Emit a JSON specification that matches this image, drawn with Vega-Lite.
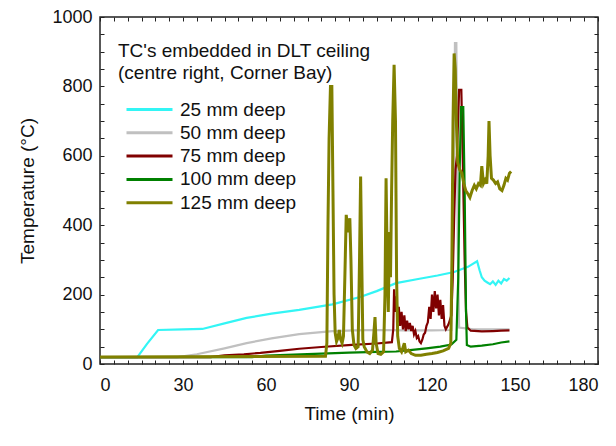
{
  "$schema": "https://vega.github.io/schema/vega-lite/v6.json",
  "width": 498,
  "height": 347,
  "autosize": "none",
  "padding": {"left": 100, "top": 17, "right": 18, "bottom": 82},
  "background": "white",
  "config": {
    "font": "Liberation Sans",
    "view": {"stroke": "#222222", "strokeWidth": 1.5},
    "axis": {"grid": false, "domain": false, "tickColor": "#222222", "labelColor": "#111111", "titleColor": "#111111", "labelFont": "Liberation Sans", "titleFont": "Liberation Sans", "labelFontSize": 18, "titleFontSize": 19, "titleFontWeight": "normal"}
  },
  "datasets": {
    "tc": [
      {"s":"25 mm deep","t":0,"v":20},{"s":"25 mm deep","t":13.5,"v":20},{"s":"25 mm deep","t":17,"v":58},{"s":"25 mm deep","t":21,"v":98},{"s":"25 mm deep","t":30,"v":100},{"s":"25 mm deep","t":37,"v":101},{"s":"25 mm deep","t":45,"v":117},{"s":"25 mm deep","t":53,"v":133},{"s":"25 mm deep","t":62,"v":145},{"s":"25 mm deep","t":72,"v":156},{"s":"25 mm deep","t":84,"v":172},{"s":"25 mm deep","t":94,"v":193},{"s":"25 mm deep","t":100,"v":210},{"s":"25 mm deep","t":107,"v":233},{"s":"25 mm deep","t":115,"v":245},{"s":"25 mm deep","t":122,"v":255},{"s":"25 mm deep","t":128,"v":265},{"s":"25 mm deep","t":133,"v":280},{"s":"25 mm deep","t":136.3,"v":296},{"s":"25 mm deep","t":137.2,"v":270},{"s":"25 mm deep","t":138,"v":250},{"s":"25 mm deep","t":139,"v":240},{"s":"25 mm deep","t":140,"v":235},{"s":"25 mm deep","t":141,"v":230},{"s":"25 mm deep","t":142,"v":238},{"s":"25 mm deep","t":143,"v":228},{"s":"25 mm deep","t":144,"v":240},{"s":"25 mm deep","t":145,"v":232},{"s":"25 mm deep","t":146,"v":245},{"s":"25 mm deep","t":147,"v":240},{"s":"25 mm deep","t":148,"v":248},
      {"s":"50 mm deep","t":0,"v":20},{"s":"50 mm deep","t":28,"v":20},{"s":"50 mm deep","t":35,"v":28},{"s":"50 mm deep","t":45,"v":45},{"s":"50 mm deep","t":53,"v":60},{"s":"50 mm deep","t":62,"v":74},{"s":"50 mm deep","t":72,"v":86},{"s":"50 mm deep","t":84,"v":95},{"s":"50 mm deep","t":92,"v":97},{"s":"50 mm deep","t":100,"v":98},{"s":"50 mm deep","t":110,"v":97},{"s":"50 mm deep","t":120,"v":97},{"s":"50 mm deep","t":127,"v":98},{"s":"50 mm deep","t":127.8,"v":450},{"s":"50 mm deep","t":128.3,"v":925},{"s":"50 mm deep","t":128.8,"v":925},{"s":"50 mm deep","t":129.3,"v":350},{"s":"50 mm deep","t":129.8,"v":105},{"s":"50 mm deep","t":135,"v":100},{"s":"50 mm deep","t":140,"v":100},{"s":"50 mm deep","t":148,"v":100},
      {"s":"75 mm deep","t":0,"v":20},{"s":"75 mm deep","t":40,"v":20},{"s":"75 mm deep","t":45,"v":25},{"s":"75 mm deep","t":52,"v":28},{"s":"75 mm deep","t":58,"v":32},{"s":"75 mm deep","t":65,"v":38},{"s":"75 mm deep","t":72,"v":44},{"s":"75 mm deep","t":80,"v":49},{"s":"75 mm deep","t":91,"v":55},{"s":"75 mm deep","t":100,"v":59},{"s":"75 mm deep","t":105.5,"v":63},{"s":"75 mm deep","t":106,"v":100},{"s":"75 mm deep","t":106.3,"v":215},{"s":"75 mm deep","t":106.8,"v":150},{"s":"75 mm deep","t":107.2,"v":195},{"s":"75 mm deep","t":107.6,"v":120},{"s":"75 mm deep","t":108,"v":165},{"s":"75 mm deep","t":108.5,"v":110},{"s":"75 mm deep","t":109,"v":150},{"s":"75 mm deep","t":109.5,"v":100},{"s":"75 mm deep","t":110,"v":140},{"s":"75 mm deep","t":110.5,"v":95},{"s":"75 mm deep","t":111,"v":125},{"s":"75 mm deep","t":111.5,"v":100},{"s":"75 mm deep","t":112,"v":118},{"s":"75 mm deep","t":112.5,"v":95},{"s":"75 mm deep","t":113,"v":110},{"s":"75 mm deep","t":113.5,"v":85},{"s":"75 mm deep","t":114,"v":95},{"s":"75 mm deep","t":114.5,"v":75},{"s":"75 mm deep","t":115,"v":80},{"s":"75 mm deep","t":115.5,"v":65},{"s":"75 mm deep","t":116,"v":60},{"s":"75 mm deep","t":116.5,"v":70},{"s":"75 mm deep","t":117,"v":85},{"s":"75 mm deep","t":117.5,"v":90},{"s":"75 mm deep","t":118,"v":110},{"s":"75 mm deep","t":118.5,"v":120},{"s":"75 mm deep","t":119,"v":165},{"s":"75 mm deep","t":119.5,"v":130},{"s":"75 mm deep","t":120,"v":200},{"s":"75 mm deep","t":120.5,"v":150},{"s":"75 mm deep","t":121,"v":210},{"s":"75 mm deep","t":121.5,"v":160},{"s":"75 mm deep","t":122,"v":200},{"s":"75 mm deep","t":122.5,"v":140},{"s":"75 mm deep","t":123,"v":185},{"s":"75 mm deep","t":123.5,"v":130},{"s":"75 mm deep","t":124,"v":170},{"s":"75 mm deep","t":124.5,"v":110},{"s":"75 mm deep","t":125,"v":100},{"s":"75 mm deep","t":126,"v":115},{"s":"75 mm deep","t":127,"v":140},{"s":"75 mm deep","t":127.5,"v":250},{"s":"75 mm deep","t":128,"v":420},{"s":"75 mm deep","t":128.5,"v":560},{"s":"75 mm deep","t":129,"v":600},{"s":"75 mm deep","t":129.8,"v":790},{"s":"75 mm deep","t":130.6,"v":790},{"s":"75 mm deep","t":131.2,"v":560},{"s":"75 mm deep","t":131.8,"v":300},{"s":"75 mm deep","t":132.3,"v":150},{"s":"75 mm deep","t":132.8,"v":105},{"s":"75 mm deep","t":134,"v":96},{"s":"75 mm deep","t":138,"v":94},{"s":"75 mm deep","t":142,"v":95},{"s":"75 mm deep","t":145,"v":96},{"s":"75 mm deep","t":148,"v":97},
      {"s":"100 mm deep","t":0,"v":20},{"s":"100 mm deep","t":55,"v":20},{"s":"100 mm deep","t":60,"v":24},{"s":"100 mm deep","t":70,"v":27},{"s":"100 mm deep","t":80,"v":30},{"s":"100 mm deep","t":90,"v":33},{"s":"100 mm deep","t":100,"v":35},{"s":"100 mm deep","t":107,"v":36},{"s":"100 mm deep","t":112,"v":40},{"s":"100 mm deep","t":118,"v":45},{"s":"100 mm deep","t":123,"v":50},{"s":"100 mm deep","t":127,"v":56},{"s":"100 mm deep","t":128.8,"v":70},{"s":"100 mm deep","t":129.5,"v":250},{"s":"100 mm deep","t":130,"v":560},{"s":"100 mm deep","t":130.5,"v":740},{"s":"100 mm deep","t":131.3,"v":740},{"s":"100 mm deep","t":131.8,"v":500},{"s":"100 mm deep","t":132.3,"v":150},{"s":"100 mm deep","t":132.6,"v":55},{"s":"100 mm deep","t":134,"v":50},{"s":"100 mm deep","t":138,"v":53},{"s":"100 mm deep","t":142,"v":57},{"s":"100 mm deep","t":145,"v":62},{"s":"100 mm deep","t":148,"v":65},
      {"s":"125 mm deep","t":0,"v":20},{"s":"125 mm deep","t":81.5,"v":22},{"s":"125 mm deep","t":82,"v":60},{"s":"125 mm deep","t":82.4,"v":400},{"s":"125 mm deep","t":82.8,"v":650},{"s":"125 mm deep","t":83.3,"v":800},{"s":"125 mm deep","t":83.8,"v":800},{"s":"125 mm deep","t":84.2,"v":500},{"s":"125 mm deep","t":84.6,"v":200},{"s":"125 mm deep","t":85,"v":90},{"s":"125 mm deep","t":85.5,"v":65},{"s":"125 mm deep","t":86,"v":75},{"s":"125 mm deep","t":86.5,"v":98},{"s":"125 mm deep","t":87,"v":70},{"s":"125 mm deep","t":87.5,"v":60},{"s":"125 mm deep","t":88,"v":80},{"s":"125 mm deep","t":88.5,"v":250},{"s":"125 mm deep","t":89,"v":430},{"s":"125 mm deep","t":89.4,"v":400},{"s":"125 mm deep","t":89.8,"v":380},{"s":"125 mm deep","t":90.3,"v":420},{"s":"125 mm deep","t":90.7,"v":300},{"s":"125 mm deep","t":91.2,"v":100},{"s":"125 mm deep","t":91.8,"v":55},{"s":"125 mm deep","t":92.5,"v":45},{"s":"125 mm deep","t":93.3,"v":50},{"s":"125 mm deep","t":93.8,"v":300},{"s":"125 mm deep","t":94.2,"v":540},{"s":"125 mm deep","t":94.6,"v":300},{"s":"125 mm deep","t":95,"v":70},{"s":"125 mm deep","t":95.5,"v":50},{"s":"125 mm deep","t":96.5,"v":35},{"s":"125 mm deep","t":97.5,"v":30},{"s":"125 mm deep","t":98.5,"v":40},{"s":"125 mm deep","t":99,"v":90},{"s":"125 mm deep","t":99.4,"v":135},{"s":"125 mm deep","t":99.8,"v":60},{"s":"125 mm deep","t":100.5,"v":30},{"s":"125 mm deep","t":101.5,"v":28},{"s":"125 mm deep","t":102.5,"v":35},{"s":"125 mm deep","t":103,"v":200},{"s":"125 mm deep","t":103.4,"v":535},{"s":"125 mm deep","t":103.8,"v":300},{"s":"125 mm deep","t":104.2,"v":150},{"s":"125 mm deep","t":104.6,"v":380},{"s":"125 mm deep","t":105,"v":250},{"s":"125 mm deep","t":105.4,"v":500},{"s":"125 mm deep","t":105.8,"v":700},{"s":"125 mm deep","t":106.3,"v":862},{"s":"125 mm deep","t":106.8,"v":700},{"s":"125 mm deep","t":107.2,"v":250},{"s":"125 mm deep","t":107.6,"v":80},{"s":"125 mm deep","t":108.2,"v":45},{"s":"125 mm deep","t":109,"v":35},{"s":"125 mm deep","t":110,"v":60},{"s":"125 mm deep","t":110.5,"v":35},{"s":"125 mm deep","t":111.5,"v":40},{"s":"125 mm deep","t":112.5,"v":30},{"s":"125 mm deep","t":114,"v":25},{"s":"125 mm deep","t":116,"v":25},{"s":"125 mm deep","t":118,"v":28},{"s":"125 mm deep","t":120,"v":30},{"s":"125 mm deep","t":122,"v":33},{"s":"125 mm deep","t":124,"v":38},{"s":"125 mm deep","t":126,"v":45},{"s":"125 mm deep","t":126.8,"v":60},{"s":"125 mm deep","t":127.2,"v":300},{"s":"125 mm deep","t":127.6,"v":700},{"s":"125 mm deep","t":128,"v":895},{"s":"125 mm deep","t":128.4,"v":850},{"s":"125 mm deep","t":128.8,"v":700},{"s":"125 mm deep","t":129.3,"v":580},{"s":"125 mm deep","t":130,"v":560},{"s":"125 mm deep","t":130.8,"v":550},{"s":"125 mm deep","t":131.5,"v":520},{"s":"125 mm deep","t":132.2,"v":500},{"s":"125 mm deep","t":133,"v":490},{"s":"125 mm deep","t":133.7,"v":480},{"s":"125 mm deep","t":134.5,"v":500},{"s":"125 mm deep","t":135.3,"v":515},{"s":"125 mm deep","t":136,"v":505},{"s":"125 mm deep","t":136.8,"v":520},{"s":"125 mm deep","t":137.5,"v":515},{"s":"125 mm deep","t":138,"v":570},{"s":"125 mm deep","t":138.6,"v":520},{"s":"125 mm deep","t":139.2,"v":530},{"s":"125 mm deep","t":139.8,"v":520},{"s":"125 mm deep","t":140.3,"v":600},{"s":"125 mm deep","t":140.6,"v":700},{"s":"125 mm deep","t":141,"v":600},{"s":"125 mm deep","t":141.5,"v":535},{"s":"125 mm deep","t":142.2,"v":530},{"s":"125 mm deep","t":143,"v":520},{"s":"125 mm deep","t":143.7,"v":525},{"s":"125 mm deep","t":144.5,"v":505},{"s":"125 mm deep","t":145.3,"v":500},{"s":"125 mm deep","t":146,"v":515},{"s":"125 mm deep","t":146.7,"v":535},{"s":"125 mm deep","t":147.3,"v":530},{"s":"125 mm deep","t":148,"v":550},{"s":"125 mm deep","t":148.6,"v":555}
    ]
  },
  "data": {"name": "tc"},
  "resolve": {"axis": {"x": "independent", "y": "independent"}},
  "layer": [
    {
      "transform": [{"filter": "datum.s !== '125 mm deep'"}],
      "mark": {"type": "line", "strokeWidth": 2.2, "interpolate": "linear"},
      "encoding": {
        "x": {"field": "t", "type": "quantitative", "scale": {"domain": [0, 180], "nice": false, "zero": false},
          "axis": {"orient": "bottom", "values": [0,5,10,15,20,25,30,35,40,45,50,55,60,65,70,75,80,85,90,95,100,105,110,115,120,125,130,135,140,145,150,155,160,165,170,175,180], "labelExpr": "datum.value % 30 === 0 ? datum.label : ''", "tickSize": -4, "labelPadding": 16, "title": "Time (min)", "titlePadding": 10}},
        "y": {"field": "v", "type": "quantitative", "scale": {"domain": [0, 1000], "nice": false},
          "axis": {"orient": "left", "values": [0,50,100,150,200,250,300,350,400,450,500,550,600,650,700,750,800,850,900,950,1000], "labelExpr": "datum.value % 200 === 0 ? datum.label : ''", "tickSize": -4, "labelPadding": 12, "format": "d", "title": "Temperature (°C)", "titlePadding": 14}},
        "color": {"field": "s", "type": "nominal",
          "scale": {"domain": ["25 mm deep", "50 mm deep", "75 mm deep", "100 mm deep", "125 mm deep"], "range": ["#33f5f5", "#c0c0c0", "#800000", "#008000", "#808000"]},
          "legend": {"orient": "none", "legendX": 18, "legendY": 25, "title": ["TC's embedded in DLT ceiling", "(centre right, Corner Bay)"], "titleLimit": 500, "titleFontSize": 19, "titleFontWeight": "normal", "titleFont": "Liberation Sans", "titleColor": "#111111", "titleLineHeight": 22, "titlePadding": 15, "labelFontSize": 19, "labelLimit": 300, "labelFont": "Liberation Sans", "labelColor": "#111111", "symbolType": "M-0.3,0H4.3", "symbolSize": 400, "symbolStrokeWidth": 3, "labelOffset": 39, "rowPadding": 1.3, "padding": 0}}
      }
    },
    {
      "transform": [{"filter": "datum.s === '125 mm deep'"}],
      "mark": {"type": "line", "strokeWidth": 3, "interpolate": "linear"},
      "encoding": {
        "x": {"field": "t", "type": "quantitative", "axis": null},
        "y": {"field": "v", "type": "quantitative", "axis": null},
        "color": {"field": "s", "type": "nominal"}
      }
    },
    {
      "mark": {"type": "point", "opacity": 0},
      "encoding": {
        "x": {"field": "t", "type": "quantitative",
          "axis": {"orient": "top", "values": [0,5,10,15,20,25,30,35,40,45,50,55,60,65,70,75,80,85,90,95,100,105,110,115,120,125,130,135,140,145,150,155,160,165,170,175,180], "labels": false, "tickSize": -4, "title": null}},
        "y": {"field": "v", "type": "quantitative",
          "axis": {"orient": "right", "values": [0,50,100,150,200,250,300,350,400,450,500,550,600,650,700,750,800,850,900,950,1000], "labels": false, "tickSize": -4, "title": null}}
      }
    }
  ]
}
